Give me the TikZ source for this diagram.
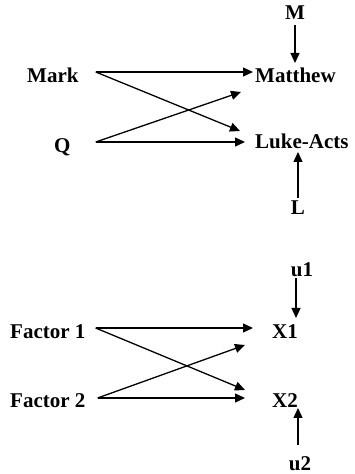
\documentclass[tikz,border=0pt]{standalone}
\usepackage{fontspec}
\setmainfont{Liberation Serif}
\usepackage{tikz}
\usetikzlibrary{arrows.meta}
\usetikzlibrary{calc}

\begin{document}
\begin{tikzpicture}[x=1pt,y=1pt,
        lbl/.style={inner sep=0pt, font=\fontsize{21}{25}\selectfont\bfseries},
        arr/.style={line width=1.3pt, -{Triangle[length=10pt,width=9pt]}}]
        \useasboundingbox (0,0) rectangle (354,474);
        % sources of the gospels
        \node [lbl, anchor=base west] (mark) at (27,391) {Mark};
        \node [lbl, anchor=base west] (q) at (54,321) {Q};
        \node [lbl, anchor=base west] (matthew) at (255,391) {Matthew};
        \node [lbl, anchor=base west] (luke) at (255,325) {Luke-Acts};
        \node [lbl, anchor=base] (m) at (295,454) {M};
        \node [lbl, anchor=base] (l) at (298,259) {L};
        \draw [arr] ($(mark.base east)+(17,11)$) -- ($(matthew.base west)+(-2,11)$);
        \draw [arr] ($(mark.base east)+(17,11)$) -- ($(luke.base west)+(-15,18)$);
        \draw [arr] ($(q.base east)+(25,11)$) -- ($(luke.base west)+(-10,7)$);
        \draw [arr] ($(q.base east)+(25,11)$) -- ($(matthew.base west)+(-14,-9)$);
        \draw [arr] ($(m.base)+(0,-5)$) -- ($(m.base |- matthew.base)+(0,20)$);
        \draw [arr] ($(l.base)+(0,17)$) -- ($(l.base |- luke.base)+(0,-3)$);
        % factor model
        \node [lbl, anchor=base west] (f1) at (10,135) {Factor 1};
        \node [lbl, anchor=base west] (f2) at (10,66) {Factor 2};
        \node [lbl, anchor=base west] (x1) at (272,135) {X1};
        \node [lbl, anchor=base west] (x2) at (272,66) {X2};
        \node [lbl, anchor=base] (u1) at (302,197) {u1};
        \node [lbl, anchor=base] (u2) at (300,4) {u2};
        \draw [arr] ($(f1.base east)+(10,11)$) -- ($(x1.base west)+(-19,11)$);
        \draw [arr] ($(f1.base east)+(10,11)$) -- ($(x2.base west)+(-27,18)$);
        \draw [arr] ($(f2.base east)+(12,10)$) -- ($(x2.base west)+(-27,10)$);
        \draw [arr] ($(f2.base east)+(12,10)$) -- ($(x1.base west)+(-27,-6)$);
        \draw [arr] ($(u1.base)+(-6,-1)$) -- ($(u1.base |- x1.base)+(-6,21)$);
        \draw [arr] ($(u2.base)+(-2,25)$) -- ($(u2.base |- x2.base)+(-2,0)$);
\end{tikzpicture}
\end{document}
